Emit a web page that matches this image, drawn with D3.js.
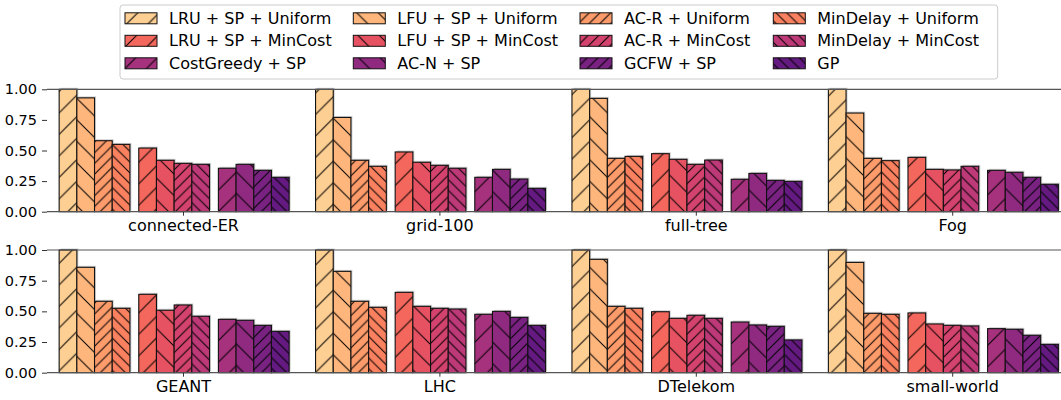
<!DOCTYPE html>
<html>
<head>
<meta charset="utf-8">
<script src="https://cdn.jsdelivr.net/npm/d3@7"></script>
<style>
  html, body { margin: 0; padding: 0; background: #fff; }
  svg { display: block; font-family: "DejaVu Sans", sans-serif; }
</style>
</head>
<body>
<svg id="chart" width="1061" height="400"></svg>
<script>
// ---------- data ----------
const seriesNames = [
  "LRU + SP + Uniform", "LFU + SP + Uniform", "AC-R + Uniform", "MinDelay + Uniform",
  "LRU + SP + MinCost", "LFU + SP + MinCost", "AC-R + MinCost", "MinDelay + MinCost",
  "CostGreedy + SP", "AC-N + SP", "GCFW + SP", "GP"
];
const topCategories = ["connected-ER", "grid-100", "full-tree", "Fog"];
const bottomCategories = ["GEANT", "LHC", "DTelekom", "small-world"];

const connectedER = [1.00, 0.93, 0.58, 0.55, 0.52, 0.42, 0.395, 0.387, 0.355, 0.387, 0.338, 0.281];
const grid100     = [1.00, 0.77, 0.42, 0.371, 0.488, 0.404, 0.379, 0.355, 0.281, 0.346, 0.267, 0.191];
const fullTree    = [1.00, 0.926, 0.436, 0.452, 0.474, 0.428, 0.387, 0.422, 0.265, 0.313, 0.256, 0.248];
const fog         = [1.00, 0.806, 0.436, 0.417, 0.444, 0.346, 0.341, 0.371, 0.338, 0.322, 0.281, 0.224];
const geant       = [1.00, 0.859, 0.582, 0.525, 0.639, 0.509, 0.552, 0.46, 0.435, 0.427, 0.386, 0.337];
const lhc         = [1.00, 0.826, 0.582, 0.533, 0.655, 0.541, 0.525, 0.519, 0.476, 0.50, 0.451, 0.386];
const dtelekom    = [1.00, 0.924, 0.541, 0.525, 0.497, 0.443, 0.468, 0.443, 0.413, 0.389, 0.378, 0.267];
const smallWorld  = [1.00, 0.899, 0.484, 0.476, 0.487, 0.397, 0.386, 0.381, 0.359, 0.354, 0.305, 0.231];

const yTicks = [0, 0.25, 0.5, 0.75, 1.0];

const topValues = [connectedER, grid100, fullTree, fog];
const bottomValues = [geant, lhc, dtelekom, smallWorld];

// ---------- style ----------
const colors = seriesNames.map((d, i) => d3.interpolateMagma(0.9 - i * (0.6 / 11)));
const hatchKinds = ["fs", "bs", "fd", "bd"]; // forward/back, sparse/dense

const svg = d3.select("#chart");
const W = 1061;

// hatch patterns
const defs = svg.append("defs");
function addPattern(id, size, forward) {
  const p = defs.append("pattern").attr("id", id)
    .attr("patternUnits", "userSpaceOnUse")
    .attr("width", size).attr("height", size);
  const s = size;
  const d = forward
    ? `M-1,1 l2,-2 M0,${s} L${s},0 M${s - 1},${s + 1} l2,-2`
    : `M-1,${s - 1} l2,2 M0,0 L${s},${s} M${s - 1},-1 l2,2`;
  p.append("path").attr("d", d).attr("stroke", "#000").attr("stroke-width", 1).attr("fill", "none");
}
addPattern("h-fs", 21.5, true);
addPattern("h-bs", 21.5, false);
addPattern("h-fd", 10.75, true);
addPattern("h-bd", 10.75, false);

// ---------- scales ----------
const x = d3.scaleLinear().domain([-0.5304, 3.4243]).range([47, W]);
const barW = 0.069;
const slot = j => Math.floor(j / 4) * 4.5 + (j % 4) - 7;

function drawPanel(cats, vals, y0, y1) {
  const y = d3.scaleLinear().domain([0, 1]).range([y0, y1]);
  const g = svg.append("g");

  cats.forEach((c, ci) => {
    vals[ci].forEach((v, j) => {
      const left = x(ci + slot(j) * barW);
      const right = x(ci + slot(j) * barW + barW);
      const top = y(v);
      // shadow
      g.append("rect")
        .attr("x", left + 1.5).attr("y", top - 1.5)
        .attr("width", right - left).attr("height", y(0) - top)
        .attr("fill", "#777").attr("opacity", 0.35);
    });
  });
  cats.forEach((c, ci) => {
    vals[ci].forEach((v, j) => {
      const left = x(ci + slot(j) * barW);
      const right = x(ci + slot(j) * barW + barW);
      const top = y(v);
      g.append("rect")
        .attr("x", left).attr("y", top)
        .attr("width", right - left).attr("height", y(0) - top)
        .attr("fill", colors[j]);
      g.append("rect")
        .attr("x", left).attr("y", top)
        .attr("width", right - left).attr("height", y(0) - top)
        .attr("fill", `url(#h-${hatchKinds[j % 4]})`)
        .attr("stroke", "#111").attr("stroke-width", 1.1);
    });
  });

  // spines top/bottom
  svg.append("line").attr("x1", 47).attr("x2", W).attr("y1", y(1)).attr("y2", y(1))
    .attr("stroke", "#555").attr("stroke-width", 1.2);
  svg.append("line").attr("x1", 47).attr("x2", W).attr("y1", y(0)).attr("y2", y(0))
    .attr("stroke", "#555").attr("stroke-width", 1.2);

  // y axis
  const ya = svg.append("g").attr("transform", "translate(47,0)")
    .call(d3.axisLeft(y).tickValues(yTicks).tickFormat(d3.format(".2f")).tickSize(5).tickPadding(5));
  ya.select(".domain").remove();
  ya.selectAll(".tick line").attr("stroke", "#333").attr("stroke-width", 1);
  ya.selectAll(".tick text").attr("font-size", 14.5).attr("fill", "#000")
    .attr("font-family", "DejaVu Sans");

  // x axis
  const xa = svg.append("g").attr("transform", `translate(0,${y(0)})`)
    .call(d3.axisBottom(x).tickValues(d3.range(cats.length)).tickFormat(i => cats[i]).tickSize(4).tickPadding(4));
  xa.select(".domain").remove();
  xa.selectAll(".tick line").attr("stroke", "#333").attr("stroke-width", 1);
  xa.selectAll(".tick text").attr("font-size", 16).attr("fill", "#000")
    .attr("font-family", "DejaVu Sans");
}

drawPanel(topCategories, topValues, 211.7, 89.3);
drawPanel(bottomCategories, bottomValues, 372.7, 250);

// ---------- legend ----------
const lg = svg.append("g");
lg.append("rect").attr("x", 120).attr("y", 5).attr("width", 877.7).attr("height", 74)
  .attr("rx", 3).attr("fill", "#fff").attr("fill-opacity", 0.8)
  .attr("stroke", "#ccc").attr("stroke-width", 1);
const colX = [125, 353.3, 580, 773.3];
const rowY = [18.3, 40.8, 63.3];
// legend rows are the groups of four, columns the position within a group
seriesNames.forEach((name, j) => {
  const col = j % 4, row = Math.floor(j / 4);
  const px = colX[col], py = rowY[row];
  lg.append("rect").attr("x", px).attr("y", py - 5.5).attr("width", 32).attr("height", 11)
    .attr("fill", colors[j]);
  lg.append("rect").attr("x", px).attr("y", py - 5.5).attr("width", 32).attr("height", 11)
    .attr("fill", `url(#h-${hatchKinds[j % 4]})`)
    .attr("stroke", "#111").attr("stroke-width", 1);
  lg.append("text").attr("x", px + 44).attr("y", py).attr("dy", "0.35em")
    .attr("font-size", 16).attr("fill", "#000").text(name);
});
</script>
</body>
</html>
